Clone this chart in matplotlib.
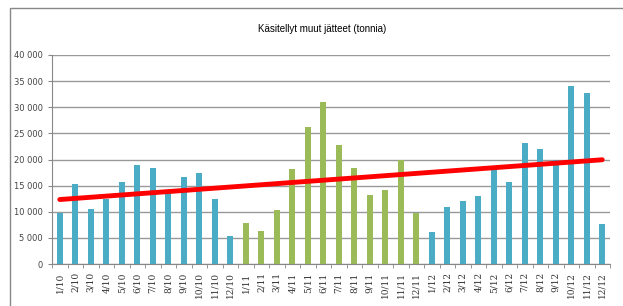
import matplotlib
matplotlib.use("Agg")
import matplotlib.pyplot as plt
import numpy as np
from matplotlib.patches import Rectangle

months = [f"{m}/{y}" for y in (10, 11, 12) for m in range(1, 13)]
values_2010 = [9.8, 15.4, 10.5, 12.5, 15.7, 18.9, 18.4, 13.8, 16.7, 17.4, 12.5, 5.4]
values_2011 = [7.8, 6.4, 10.3, 18.2, 26.3, 31.1, 22.8, 18.4, 13.3, 14.2, 20.0, 9.8]
values_2012 = [6.2, 11.0, 12.0, 13.0, 18.1, 15.7, 23.2, 22.1, 19.9, 34.1, 32.7, 7.6]

blue = "#4BACC6"
green = "#9BBB59"

vals = np.array(values_2010 + values_2011 + values_2012) * 1000
colors = [blue] * 12 + [green] * 12 + [blue] * 12
x = np.arange(len(vals))

fig = plt.figure(figsize=(6.23, 3.06), dpi=100)
fig.patches.append(Rectangle((10 / 623, -0.1), 1.2, 1 - 8 / 306 + 0.1,
                             transform=fig.transFigure, fill=False,
                             edgecolor="#888888", lw=1.0))
ax = fig.add_axes([52 / 623, 1 - 264 / 306, 558 / 623, 209 / 306])

ax.bar(x, vals, width=0.4, color=colors, zorder=2)

# linear trend over all months
k, b = np.polyfit(x, vals, 1)
ax.plot([x[0], x[-1]], [k * x[0] + b, k * x[-1] + b], color="red", lw=3.5,
        solid_capstyle="round", zorder=3)

ax.set_xlim(-0.5, len(vals) - 0.5)
ax.set_ylim(0, 40000)
yt = np.arange(0, 40001, 5000)
ax.set_yticks(yt)
ax.set_yticklabels([f"{v:,}".replace(",", " ") for v in yt], fontsize=6,
                   color="#444444")
ax.set_xticks(x)
ax.set_xticklabels(months, rotation=90, fontsize=6.5, family="DejaVu Serif",
                   color="#333333")
ax.set_xticks(np.arange(-0.5, len(vals), 1), minor=True)
ax.tick_params(axis="x", which="major", length=0, pad=6)
ax.tick_params(axis="x", which="minor", length=3, color="#888888")
ax.tick_params(axis="y", length=3, color="#888888")
ax.grid(axis="y", color="#999999", lw=1.0, zorder=0)
for s in ("top", "right"):
    ax.spines[s].set_visible(False)
ax.spines["left"].set_color("#888888")
ax.spines["bottom"].set_color("#888888")

fig.text(322 / 623, 1 - 29 / 306, "Käsitellyt muut jätteet (tonnia)",
         ha="center", va="center", fontsize=7, family="Liberation Sans")

fig.savefig("out.png", dpi=100)
